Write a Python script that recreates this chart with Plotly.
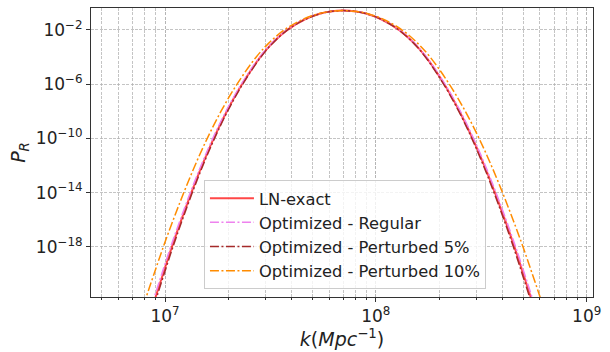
import plotly.graph_objects as go

# ---- data: log10 of k (Mpc^-1) and log10 of P_R ----
log10_P = [-23.5, -21.7, -20, -18, -16, -14, -12, -10, -8, -6, -4, -3, -2, -1.2, -0.8, -0.65, -0.58,
           -0.65, -0.8, -1.2, -2, -3, -4, -6, -8, -10, -12, -14, -16, -18, -20, -21.7, -23.5]

log10_k_ln = [6.9202, 6.9556, 6.9906, 7.0327, 7.0778, 7.1252, 7.1758, 7.2312, 7.2935, 7.3658, 7.4525,
              7.5079, 7.5799, 7.6667, 7.7374, 7.7843, 7.845,
              7.9057, 7.9526, 8.0233, 8.1101, 8.1821, 8.2375, 8.3242, 8.3965, 8.4588, 8.5142,
              8.5648, 8.6122, 8.6573, 8.6994, 8.7344, 8.7698]

log10_k_reg = [6.9137, 6.9494, 6.9846, 7.0270, 7.0724, 7.1202, 7.1711, 7.2269, 7.2896, 7.3624, 7.4498,
               7.5055, 7.5780, 7.6655, 7.7366, 7.7839, 7.845,
               7.9061, 7.9534, 8.0245, 8.1120, 8.1845, 8.2402, 8.3276, 8.4004, 8.4631, 8.5189,
               8.5698, 8.6176, 8.6630, 8.7054, 8.7406, 8.7763]

log10_k_p5 = [6.9257, 6.9609, 6.9957, 7.0376, 7.0824, 7.1295, 7.1798, 7.2349, 7.2968, 7.3687, 7.4549,
              7.5099, 7.5815, 7.6678, 7.7380, 7.7847, 7.845,
              7.9053, 7.9520, 8.0222, 8.1085, 8.1801, 8.2351, 8.3213, 8.3932, 8.4551, 8.5102,
              8.5605, 8.6076, 8.6524, 8.6943, 8.7291, 8.7643]

log10_k_p10 = [6.8740, 6.9111, 6.9479, 6.9921, 7.0394, 7.0892, 7.1423, 7.2005, 7.2659, 7.3418, 7.4329,
               7.4910, 7.5666, 7.6578, 7.7320, 7.7813, 7.845,
               7.9087, 7.9580, 8.0322, 8.1234, 8.1990, 8.2571, 8.3482, 8.4241, 8.4895, 8.5477,
               8.6008, 8.6506, 8.6979, 8.7421, 8.7789, 8.8160]

series_names = ["LN-exact", "Optimized - Regular", "Optimized - Perturbed 5%", "Optimized - Perturbed 10%"]

x_ticks = [1e7, 1e8, 1e9]
x_ticktext = ["10<sup>7</sup>", "10<sup>8</sup>", "10<sup>9</sup>"]
y_ticks = [1e-2, 1e-6, 1e-10, 1e-14, 1e-18]
y_ticktext = ["10<sup>−2</sup>", "10<sup>−6</sup>", "10<sup>−10</sup>", "10<sup>−14</sup>", "10<sup>−18</sup>"]

P_vals = [10 ** v for v in log10_P]
to_k = lambda arr: [10 ** v for v in arr]

FONT = "DejaVu Sans"
dashdot = "9px,2.5px,2px,2.5px"

fig = go.Figure()
fig.add_trace(go.Scatter(x=to_k(log10_k_ln), y=P_vals, mode="lines", name=series_names[0],
                         line=dict(color="rgba(255,25,25,0.8)", width=2, shape="spline")))
fig.add_trace(go.Scatter(x=to_k(log10_k_reg), y=P_vals, mode="lines", name=series_names[1],
                         line=dict(color="violet", width=1.5, dash=dashdot, shape="spline")))
fig.add_trace(go.Scatter(x=to_k(log10_k_p5), y=P_vals, mode="lines", name=series_names[2],
                         line=dict(color="#a52a2a", width=1.5, dash=dashdot, shape="spline")))
fig.add_trace(go.Scatter(x=to_k(log10_k_p10), y=P_vals, mode="lines", name=series_names[3],
                         line=dict(color="darkorange", width=1.5, dash=dashdot, shape="spline")))

GRIDC = "rgba(176,176,176,0.75)"
GDASH = "3px,1.4px"
grid = dict(showgrid=True, gridcolor=GRIDC, griddash=GDASH, gridwidth=0.8)

fig.update_xaxes(type="log", range=[6.649, 9.03], tickvals=x_ticks, ticktext=x_ticktext,
                 ticks="outside", ticklen=4, tickcolor="#333", tickfont=dict(size=17, color="#222", family=FONT),
                 showline=True, linecolor="#333", linewidth=1, mirror=True, zeroline=False,
                 minor=dict(dtick="D1", showgrid=True, gridcolor=GRIDC, griddash=GDASH,
                            gridwidth=0.8, ticks="outside", ticklen=2, tickcolor="#333"),
                 title=dict(text="<i>k</i>(<i>Mpc</i><sup>−1</sup>)", font=dict(size=19, family=FONT, color="#222"),
                            standoff=5),
                 **grid)
fig.update_yaxes(type="log", range=[-21.70, -0.39], tickvals=y_ticks, ticktext=y_ticktext,
                 ticks="outside", ticklen=4, tickcolor="#333", tickfont=dict(size=17, color="#222", family=FONT),
                 showline=True, linecolor="#333", linewidth=1, mirror=True, zeroline=False,
                 title=dict(text="<i>P</i><sub><i>R</i></sub>", font=dict(size=19, family=FONT, color="#222"),
                            standoff=5),
                 **grid)

fig.update_layout(
    width=610, height=352,
    margin=dict(l=91, r=17, t=7, b=54),
    paper_bgcolor="white", plot_bgcolor="white",
    font=dict(family=FONT, color="#222"),
    showlegend=True,
    legend=dict(x=0.225, y=0.0275, xanchor="left", yanchor="bottom",
                bgcolor="rgba(255,255,255,0.8)", bordercolor="#cccccc", borderwidth=1,
                font=dict(size=16.3, family=FONT, color="#222"), itemwidth=44,
                tracegroupgap=0),
)

fig.write_html("out.html")
